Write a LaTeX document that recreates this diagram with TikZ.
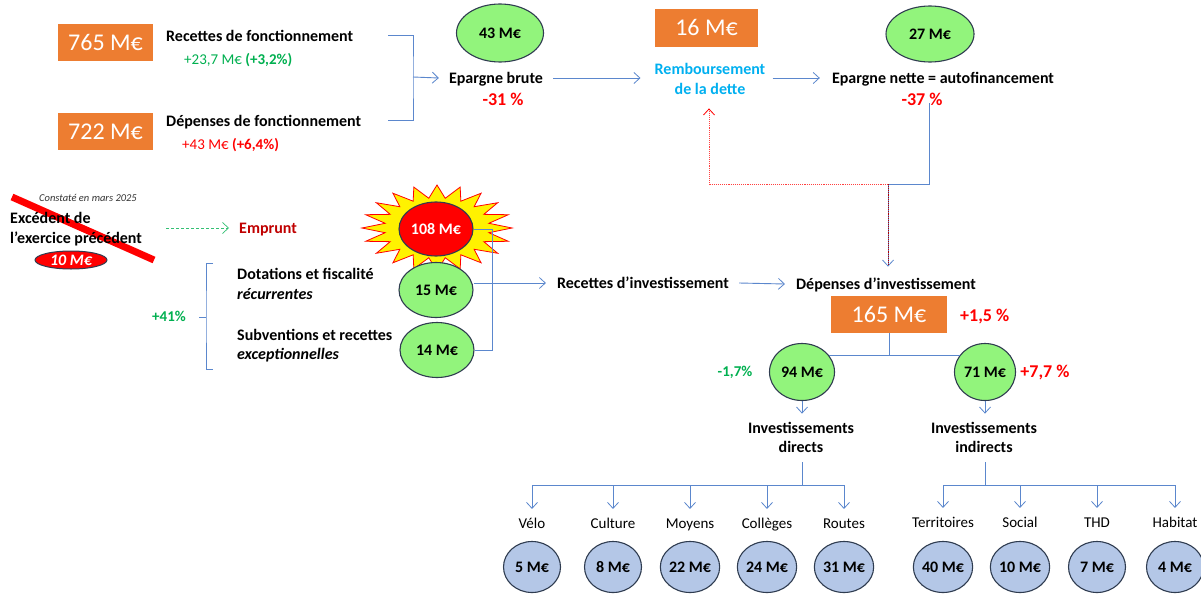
\documentclass[tikz,border=0pt]{standalone}
\usepackage{fontspec}
\setmainfont{Carlito}
\usetikzlibrary{arrows.meta,shapes.geometric,calc}
\definecolor{orangebox}{RGB}{237,125,49}
\definecolor{lgreen}{RGB}{146,244,124}
\definecolor{lblue}{RGB}{180,199,231}
\definecolor{edge}{RGB}{47,60,80}
\definecolor{linkblue}{RGB}{91,135,205}
\definecolor{gtxt}{RGB}{0,176,80}
\definecolor{cyantxt}{RGB}{0,176,240}
\definecolor{darkred}{RGB}{192,0,0}
\newcommand{\fsz}[1]{\fontsize{#1}{#1}\selectfont}

\begin{document}
\begin{tikzpicture}[x=1pt,y=-1pt,
  txt/.style={inner sep=0pt, text height=10.4pt, text depth=0pt},
  lbl/.style={txt, font=\fsz{16}\bfseries},
  sub/.style={txt, text height=9.7pt, font=\fsz{15}},
  pct/.style={txt, text height=11.7pt, font=\fsz{18}\bfseries, text=red},
  valbox/.style={rectangle, fill=orangebox, text=white, font=\fsz{24},
    inner sep=0pt, text height=15.6pt, text depth=0pt},
  oval/.style={ellipse, draw=edge, line width=1.1pt, fill=lgreen,
    inner sep=0pt, text height=10.4pt, text depth=0pt, font=\fsz{16}\bfseries},
  blob/.style={oval, fill=lblue, minimum width=57pt, minimum height=51pt},
  link/.style={draw=linkblue, line width=0.9pt},
  tip/.style={-{Straight Barb[length=6pt,width=11pt,line width=0.8pt]}},
  rtip/.style={-{Straight Barb[length=6pt,width=11pt,line width=0.8pt,color=red]}}
]
\fill[white] (0,0) rectangle (1201,594);
\useasboundingbox (0,0) rectangle (1201,594);

% ---------- operating section ----------
\node[valbox, minimum width=95pt, minimum height=37pt] (b765) at (105.5,42.5) {765 M€};
\node[lbl, anchor=west] (rf) at (166,36) {Recettes de fonctionnement};
\node[sub, text=gtxt, anchor=west] (rfd) at (184,60) {+23,7 M€ \textbf{(+3,2\%)}};
\node[valbox, minimum width=95pt, minimum height=37pt] (b722) at (105.5,131.5) {722 M€};
\node[lbl, anchor=west] (df) at (166,121) {Dépenses de fonctionnement};
\node[sub, text=red, anchor=west] (dfd) at (182,145) {+43 M€ \textbf{(+6,4\%)}};

\coordinate (brt) at (388,35);
\coordinate (brb) at (388,120);
\coordinate (brm) at (413,77);
\draw[link] (brt) -| (brm) |- (brb);

\node[oval, minimum width=87pt, minimum height=58pt] (e43) at (500,33) {43 M€};
\node[lbl] (eb) at (496,78) {Epargne brute};
\node[pct] (ebp) at (503,100) {-31 \%};
\draw[link, tip] (brm) -- ($(eb.west)+(-10,0)$);

\node[valbox, minimum width=103pt, minimum height=38pt] (b16) at (706.5,28) {16 M€};
\node[lbl, text=cyantxt] (rb1) at (710,69) {Remboursement};
\node[lbl, text=cyantxt] (rb2) at (710,89) {de la dette};
\draw[link, tip] ($(eb.east)+(10,0)$) -- ($(rb1.west |- eb.east)+(-14,0)$);

\node[oval, minimum width=88pt, minimum height=56pt] (e27) at (930,34) {27 M€};
\node[lbl] (en) at (943,78) {Epargne nette = autofinancement};
\node[pct] (enp) at (922,100) {-37 \%};
\draw[link, tip] ($(rb1.east |- en.west)+(7,0)$) -- ($(en.west)+(-12,0)$);

% self-financing split: debt repayment and investment
\coordinate (split) at (888,184);
\draw[link] (929,103) |- (split);
\draw[red!75, densely dotted, line width=0.9pt, rtip] (split) -| ($(rb2.south)+(-1,14)$);

% ---------- previous-year surplus (struck out) ----------
\draw[red, line width=7pt] (12,197) -- (154,260);
\node[txt, text height=6.5pt, font=\fsz{10.5}\itshape, text=black!80] (cst) at (88,198) {Constaté en mars 2025};
\node[lbl, anchor=west] (ex1) at (10,218) {Excédent de};
\node[lbl, anchor=west] (ex2) at (10,238) {l’exercice précédent};
\node[ellipse, draw=edge, line width=1pt, fill=red, text=white, inner sep=0pt,
  text height=10.4pt, text depth=0pt,
  minimum width=72pt, minimum height=18pt, font=\fsz{16}\bfseries\itshape] (e10) at (71,260) {10 M€};

\node[lbl, text=darkred, anchor=west] (emp) at (239,228) {Emprunt};
\draw[gtxt!80, densely dashed, line width=0.7pt,
  -{Straight Barb[length=6pt,width=11pt,line width=0.7pt]}] (166,228) -- ($(emp.west)+(-10,0)$);

% ---------- investment revenue ----------
\draw[red, fill=yellow, line width=0.8pt]
  plot[samples at={0,...,39}]
  ({437+75*(1-0.3*mod(\x,2))*cos(90+9*\x)}, {228-43*(1-0.3*mod(\x,2))*sin(90+9*\x)}) -- cycle;
\node[oval, fill=red, text=white, minimum width=74pt, minimum height=54pt] (e108) at (436,229) {108 M€};
\node[oval, minimum width=74pt, minimum height=55pt] (e15) at (436,290) {15 M€};
\node[oval, minimum width=74pt, minimum height=55pt] (e14) at (437,350) {14 M€};

\node[lbl, anchor=west] (dot1) at (237,274) {Dotations et fiscalité};
\node[txt, font=\fsz{16}\bfseries\itshape, anchor=west] (dot2) at (237,294) {récurrentes};
\node[lbl, anchor=west] (sub1) at (237,335) {Subventions et recettes};
\node[txt, font=\fsz{16}\bfseries\itshape, anchor=west] (sub2) at (237,354) {exceptionnelles};

\node[txt, text height=9.7pt, font=\fsz{15}\bfseries, text=gtxt] (p41) at (169,317) {+41\%};
\coordinate (cbt) at (213,263);
\coordinate (cbb) at (213,369);
\coordinate (cbm) at (206,317);
\draw[link] (cbt) -| (cbm) |- (cbb);
\draw[link] (cbm) -- ++(-7,0);

\draw[link] (e108.east) -- ++(19,0) |- (e14.east);
\node[lbl] (ri) at (643,283) {Recettes d’investissement};
\draw[link, tip] ($(e15.east)+(0,-7)$) -- ($(ri.west)+(-11,0)$);

\node[lbl] (di) at (886,284) {Dépenses d’investissement};
\draw[link, tip] ($(ri.east)+(10,0)$) -- ($(di.west)+(-11,0)$);
\draw[link, tip] (split) -- ($(di.north -| split)+(0,-12)$);
\draw[red!70!black, densely dotted, line width=0.9pt] (split) -- ($(di.north -| split)+(0,-13)$);

% ---------- investment spending ----------
\node[valbox, minimum width=116pt, minimum height=37pt] (b165) at (889,314.5) {165 M€};
\node[pct, anchor=west] (p165) at (960,316) {+1,5 \%};

\node[oval, minimum width=65pt, minimum height=57pt] (e94) at (802,372) {94 M€};
\node[oval, minimum width=61pt, minimum height=57pt] (e71) at (985,372) {71 M€};
\node[txt, text height=9.7pt, font=\fsz{15}\bfseries, text=gtxt] (p94) at (735,372) {-1,7\%};
\node[pct] (p71) at (1045,372) {+7,7 \%};

\coordinate (fork) at (889,355);
\draw[link] (b165.south) -- (fork);
\draw[link] ($(e94)+(27,-17)$) -- ($(e71)+(-25,-17)$);

\node[lbl] (id1) at (801,428) {Investissements};
\node[lbl] (id2) at (801,447) {directs};
\node[lbl] (ii1) at (984,428) {Investissements};
\node[lbl] (ii2) at (984,447) {indirects};
\draw[link, tip] (e94.south) -- ($(id1.north -| e94.south)+(0,-9)$);
\draw[link, tip] (e71.south) -- ($(ii1.north -| e71.south)+(0,-9)$);

% direct investments
\coordinate (dh) at (802,485);
\draw[link] ($(id2.south -| dh)+(0,10)$) -- (dh);
\draw[link] (532,485) -- (844,485);
\foreach \n/\x/\t/\v in {velo/532/Vélo/5, cult/613/Culture/8, moy/690/Moyens/22,
                         coll/767/Collèges/24, rout/844/Routes/31}{
  \node[sub] (l\n) at (\x,524) {\t};
  \node[blob] (c\n) at (\x,567) {\v\ M€};
  \draw[link, tip] (\x,485) -- ($(l\n.north)+(0,-10)$);
}

% indirect investments
\coordinate (ih) at (985,485);
\draw[link] ($(ii2.south -| ih)+(0,10)$) -- (ih);
\draw[link] (943,485) -- (1175,485);
\foreach \n/\x/\t/\v in {terr/943/Territoires/40, soc/1020/Social/10,
                         thd/1097/THD/7, hab/1175/Habitat/4}{
  \node[sub] (l\n) at (\x,523) {\t};
  \node[blob] (c\n) at (\x,567) {\v\ M€};
  \draw[link, tip] (\x,485) -- ($(l\n.north)+(0,-10)$);
}
\end{tikzpicture}
\end{document}
